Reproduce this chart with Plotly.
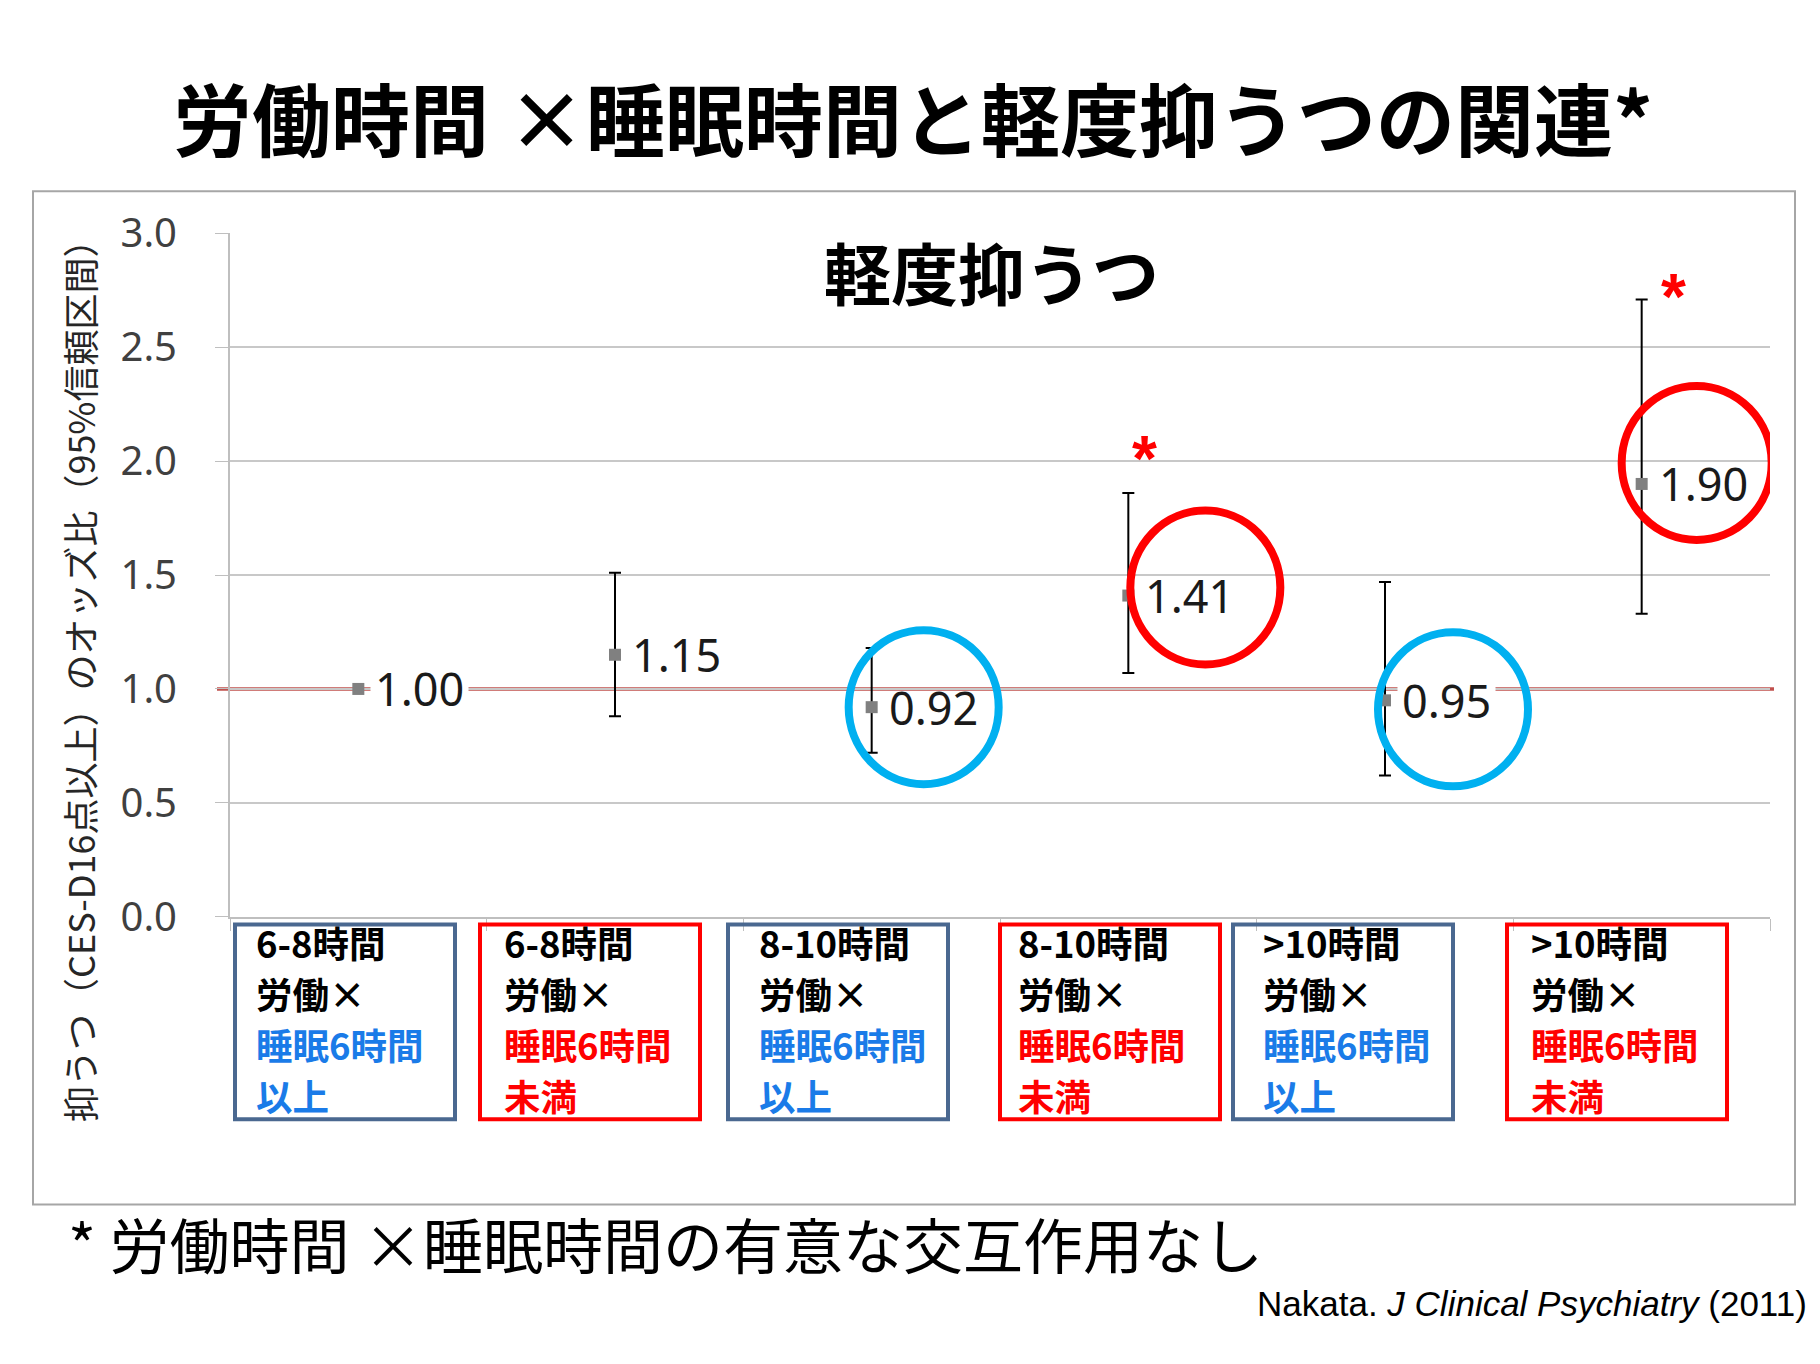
import plotly.graph_objects as go

W, H = 1820, 1364

# data
work_hours = ["6-8時間", "6-8時間", "8-10時間", "8-10時間", ">10時間", ">10時間"]
sleep_group = ["以上", "未満", "以上", "未満", "以上", "未満"]
odds = [1.00, 1.15, 0.92, 1.41, 0.95, 1.90]
ci_low = [None, 0.88, 0.72, 1.07, 0.62, 1.33]
ci_high = [None, 1.51, 1.18, 1.86, 1.47, 2.71]
significant = [False, False, False, True, False, True]
y_ticks = [0.0, 0.5, 1.0, 1.5, 2.0, 2.5, 3.0]

title = "労働時間 ×睡眠時間と軽度抑うつの関連*"
chart_title = "軽度抑うつ"
y_title = "抑うつ（CES-D16点以上）のオッズ比（95%信頼区間）"
footnote = "* 労働時間 ×睡眠時間の有意な交互作用なし"

JP = "Noto Sans CJK JP"
BLUE_TXT = "#1a7be8"
RED = "#ff0000"
NAVY = "#4a6890"
CYAN = "#00b0f0"

def px(x):
    return x / W

def py(y):
    return 1 - y / H

x = list(range(len(odds)))

fig = go.Figure()

# error bars (reference group has none)
idx = [i for i in x if ci_low[i] is not None]
fig.add_trace(go.Scatter(
    x=idx,
    y=[odds[i] for i in idx],
    mode="markers",
    marker=dict(size=1, color="rgba(0,0,0,0)"),
    error_y=dict(
        type="data",
        symmetric=False,
        array=[ci_high[i] - odds[i] for i in idx],
        arrayminus=[odds[i] - ci_low[i] for i in idx],
        color="black",
        thickness=2,
        width=6,
    ),
    showlegend=False,
    hoverinfo="skip",
))

fig.add_trace(go.Scatter(
    x=x,
    y=odds,
    mode="markers",
    marker=dict(symbol="square", size=12, color="#808080"),
    showlegend=False,
))

# value labels; the ones sitting on the OR=1 line blank it out
for i in x:
    on_line = abs(odds[i] - 1) < 0.06
    fig.add_annotation(
        x=i, y=odds[i], xref="x", yref="y",
        text=f"{odds[i]:.2f}",
        showarrow=False, xanchor="left", yanchor="middle",
        xshift=12, bgcolor="white" if on_line else "rgba(0,0,0,0)",
        borderpad=4,
        font=dict(family="Noto Sans", size=45, color="#1a1a1a"),
    )

# significance stars
star_shift = {3: (16, -4), 5: (32, -36)}
for i in x:
    if significant[i]:
        dx, dy = star_shift[i]
        fig.add_annotation(
            x=i, y=ci_high[i], xref="x", yref="y",
            text="<b>*</b>", showarrow=False,
            xanchor="center", yanchor="bottom",
            xshift=dx, yshift=dy,
            font=dict(family="Liberation Sans", size=64, color=RED),
        )

# reference line at OR = 1
fig.add_shape(type="line", xref="paper", yref="y",
              x0=px(217), x1=px(1774), y0=1, y1=1,
              line=dict(color="#c0504d", width=3.5), layer="between")

# highlight circles, offset from their points in pixels
circle_off = {2: (52, 0), 3: (77, 8), 4: (68, -9), 5: (55, 21)}
for i, (dx, dy) in circle_off.items():
    col = RED if sleep_group[i] == "未満" else CYAN
    fig.add_shape(type="circle", xref="x", yref="y",
                  xsizemode="pixel", ysizemode="pixel",
                  xanchor=i, yanchor=odds[i],
                  x0=dx - 75, x1=dx + 75, y0=dy - 77, y1=dy + 77,
                  line=dict(color=col, width=8))

# category boxes under the axis
box_left = [235, 480, 728, 1000, 1233, 1507]
text_left = [254, 502, 757, 1016, 1261, 1529]
line_y = [952, 1005, 1058, 1111]
for i in x:
    col = RED if sleep_group[i] == "未満" else NAVY
    tcol = RED if sleep_group[i] == "未満" else BLUE_TXT
    fig.add_shape(type="rect", xref="paper", yref="paper",
                  x0=px(box_left[i]), x1=px(box_left[i] + 220),
                  y0=py(1136), y1=py(933),
                  line=dict(color=col, width=4))
    lines = [(work_hours[i], "black"), ("労働×", "black"),
             ("睡眠6時間", tcol), (sleep_group[i], tcol)]
    for (txt, c), ly in zip(lines, line_y):
        fig.add_annotation(
            x=px(text_left[i]), y=py(ly), xref="paper", yref="paper",
            text=f"<b>{txt}</b>", showarrow=False,
            xanchor="left", yanchor="middle",
            font=dict(family=JP, size=36.5, color=c),
        )

# outer frame of the chart
fig.add_shape(type="rect", xref="paper", yref="paper",
              x0=px(33), x1=px(1795), y0=py(1225), y1=py(169),
              line=dict(color="#a6a6a6", width=2), layer="below")

fig.add_annotation(x=px(913), y=py(91), xref="paper", yref="paper",
                   text=f"<b>{title}</b>", showarrow=False,
                   xanchor="center", yanchor="middle",
                   font=dict(family=JP, size=79, color="black"))
fig.add_annotation(x=px(992), y=py(252), xref="paper", yref="paper",
                   text=f"<b>{chart_title}</b>", showarrow=False,
                   xanchor="center", yanchor="middle",
                   font=dict(family=JP, size=67, color="black"))
fig.add_annotation(x=px(66), y=py(1265), xref="paper", yref="paper",
                   text=footnote, showarrow=False,
                   xanchor="left", yanchor="middle",
                   font=dict(family=JP, size=60, color="black"))
fig.add_annotation(x=px(1809), y=py(1328), xref="paper", yref="paper",
                   text="Nakata. <i>J Clinical Psychiatry</i> (2011)",
                   showarrow=False, xanchor="right", yanchor="middle",
                   font=dict(family="Liberation Sans", size=35, color="black"))
fig.add_annotation(x=px(79), y=py(670), xref="paper", yref="paper",
                   text=y_title, textangle=-90, showarrow=False,
                   xanchor="center", yanchor="middle",
                   font=dict(family=JP, size=36, color="#262626"))

fig.update_xaxes(
    range=[-0.5, 5.5], domain=[px(230), px(1770)],
    tickvals=[v - 0.5 for v in range(len(odds) + 1)],
    showticklabels=False, ticks="outside", ticklen=12, tickcolor="#bfbfbf",
    showgrid=False, showline=True, linecolor="#bfbfbf", linewidth=2,
    zeroline=False,
)
fig.update_yaxes(
    range=[0, 3.0], domain=[py(925), py(213)],
    tickvals=y_ticks, ticktext=[f"{v:.1f}" for v in y_ticks],
    ticks="outside", ticklen=13, tickcolor="#bfbfbf", ticklabelstandoff=30,
    tickfont=dict(family="Noto Sans", size=40, color="#404040"),
    showgrid=True, gridcolor="#c8c8c8", gridwidth=2,
    showline=True, linecolor="#bfbfbf", linewidth=2, zeroline=False,
)

fig.update_layout(
    width=W, height=H,
    margin=dict(l=0, r=0, t=0, b=0),
    paper_bgcolor="white", plot_bgcolor="white",
)

fig.write_html("out.html", config={"displayModeBar": False},
               post_script="document.body.style.margin = '0';")
